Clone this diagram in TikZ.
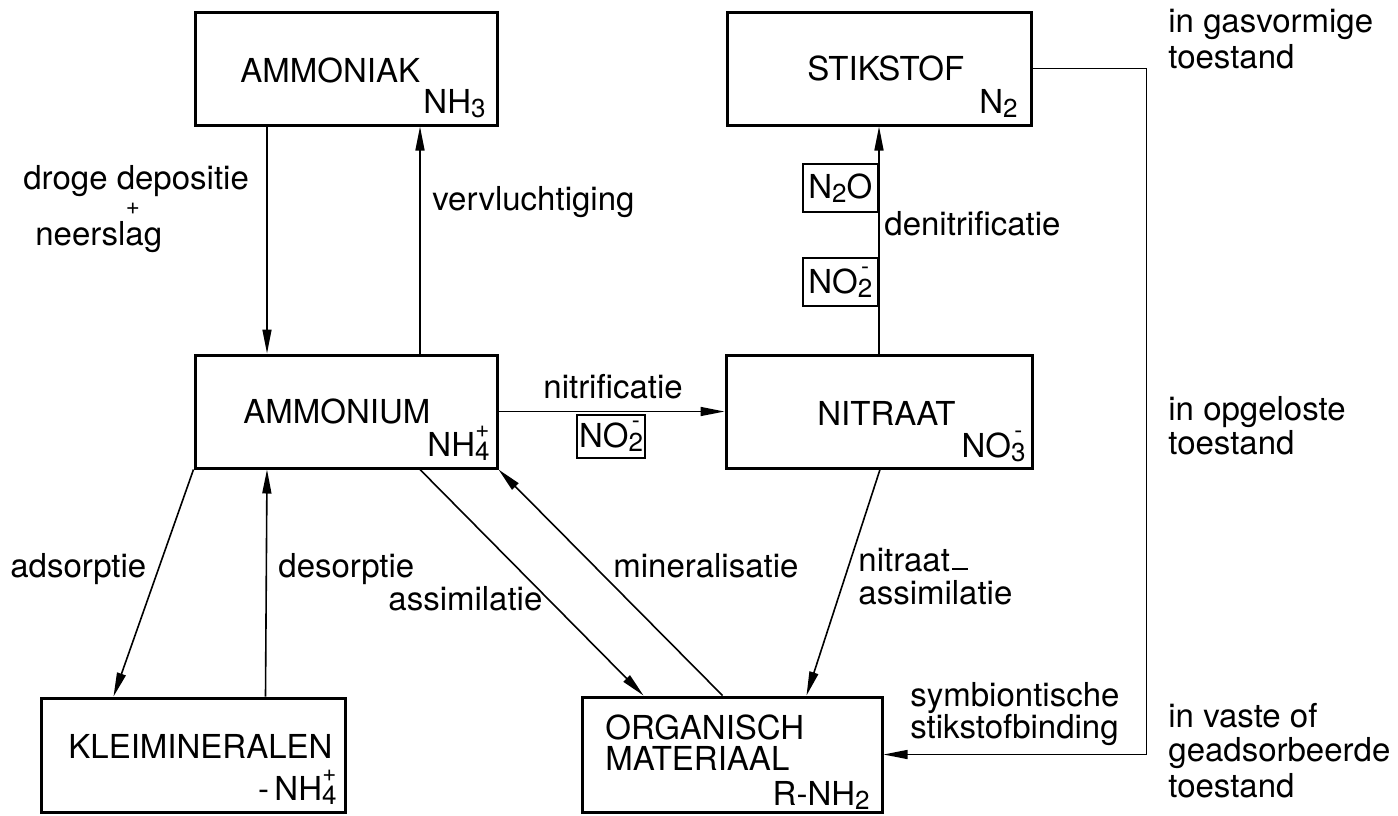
\documentclass[tikz,border=0pt]{standalone}
\usepackage{fontspec}
\setmainfont{TeX Gyre Heros}
\usetikzlibrary{arrows.meta,calc}
\newcommand\mainsize{\fontsize{16.5}{19}\selectfont}
\newcommand\chemion[2]{{\setbox0=\hbox{\fontsize{13}{13}\selectfont #1}\setbox2=\hbox{\fontsize{12}{12}\selectfont #2}\raisebox{-0.25ex}{\copy0}\kern-\wd0\raisebox{9.5pt}{\hbox to\wd0{\hss\box2\hss}}}}
\begin{document}
\begin{tikzpicture}[x=0.5pt,y=-0.5pt,
  box/.style={draw,line width=1.5pt,inner sep=0pt},
  sbox/.style={draw,line width=1.2pt,inner sep=0pt,minimum width=37.5pt,minimum height=24pt,font=\mainsize},
  lab/.style={inner sep=0pt,anchor=base west,font=\mainsize},
  labr/.style={inner sep=0pt,anchor=base east,font=\mainsize},
  con/.style={line width=0.8pt,-{Triangle[length=12pt,width=4.5pt]}},
]
\useasboundingbox (0,0) rectangle (1398,815);
\fill[white] (0,0) rectangle (1398,815);
% boxes
\node[box,minimum width=151pt,minimum height=56.5pt] (amk) at (346,68.5) {};
\node[box,minimum width=152pt,minimum height=56.5pt] (stik) at (879,68.5) {};
\node[box,minimum width=151pt,minimum height=56.5pt] (amm) at (346,411.5) {};
\node[box,minimum width=153pt,minimum height=56.5pt] (nit) at (879,411.5) {};
\node[box,minimum width=152pt,minimum height=57pt] (klei) at (193,755) {};
\node[box,minimum width=150pt,minimum height=57.5pt] (org) at (732,754.5) {};
% box texts
\node[lab] (amkT) at (240,82) {AMMONIAK};
\node[labr] (amkF) at (486,113) {NH\chemion{3}{}};
\node[lab] (stikT) at (807,80) {STIKSTOF};
\node[labr] (stikF) at (1018,113) {N\chemion{2}{}};
\node[lab] (ammT) at (243,423) {AMMONIUM};
\node[labr] (ammF) at (490,456) {NH\chemion{4}{+}};
\node[lab] (nitT) at (817,425) {NITRAAT};
\node[labr] (nitF) at (1026,457) {NO\chemion{3}{-}};
\node[lab] (kleiT) at (68,758) {KLEIMINERALEN};
\node[labr] (kleiF) at (337,800) {-\,NH\chemion{4}{+}};
\node[lab] (orgT1) at (605,739) {ORGANISCH};
\node[lab] (orgT2) at (605,770) {MATERIAAL};
\node[labr] (orgF) at (870,805) {R-NH\chemion{2}{}};
% small boxes
\node[sbox,anchor=north east] (n2o) at (879,163) {N\chemion{2}{}O};
\node[sbox,anchor=north east] (no2a) at (879,257) {NO\chemion{2}{-}};
\node[sbox,minimum width=34pt,minimum height=21.5pt] (no2b) at (611,436.5) {NO\chemion{2}{-}};
% connectors
\draw[con] ($(amk.south)+(-79,0)$) -- ($(amm.north)+(-79,0)$);
\draw[con] ($(amm.north)+(74,0)$) -- ($(amk.south)+(74,0)$);
\draw[con] (amm.east) -- (nit.west);
\draw[con] (nit.north) -- (stik.south);
\draw[con] (amm.south west) -- ($(klei.north west)+(74,0)$);
\draw[con] ($(klei.north west)+(226,0)$) -- ($(amm.south)+(-79,0)$);
\draw[con] ($(amm.south)+(74,0)$) -- ($(org.north west)+(63,0)$);
\draw[con] ($(org.north west)+(142,0)$) -- (amm.south east);
\draw[con] ($(nit.south)+(1,0)$) -- ($(org.north west)+(226,0)$);
\draw[con,line width=0.7pt] (stik.east) -- ++(114,0) |- (org.east);
% labels
\node[lab] (l1) at (23,189) {droge depositie};
\node[inner sep=0pt,font=\fontsize{12}{12}\selectfont] (l1p) at (133,209) {+};
\node[lab] (l1b) at (35,245) {neerslag};
\node[lab] (l2) at (432,210) {vervluchtiging};
\node[lab] (l3) at (543,398) {nitrificatie};
\node[lab] (l4) at (884,235) {denitrificatie};
\node[lab] (l5) at (10,577) {adsorptie};
\node[lab] (l6) at (278,577) {desorptie};
\node[lab] (l7) at (613,577) {mineralisatie};
\node[lab] (l8) at (388,610) {assimilatie};
\node[lab] (l9) at (858,571) {nitraat\kern1pt\rule[0.5pt]{8pt}{1pt}};
\node[lab] (l9b) at (858,604) {assimilatie};
\node[lab] (l10) at (910,706) {symbiontische};
\node[lab] (l10b) at (910,738) {stikstofbinding};
\node[lab] (r1) at (1168,32) {in gasvormige};
\node[lab] (r1b) at (1168,68) {toestand};
\node[lab] (r2) at (1168,420) {in opgeloste};
\node[lab] (r2b) at (1168,454) {toestand};
\node[lab] (r3) at (1168,727) {in vaste of};
\node[lab] (r3b) at (1168,761) {geadsorbeerde};
\node[lab] (r3c) at (1168,797) {toestand};
\end{tikzpicture}
\end{document}
